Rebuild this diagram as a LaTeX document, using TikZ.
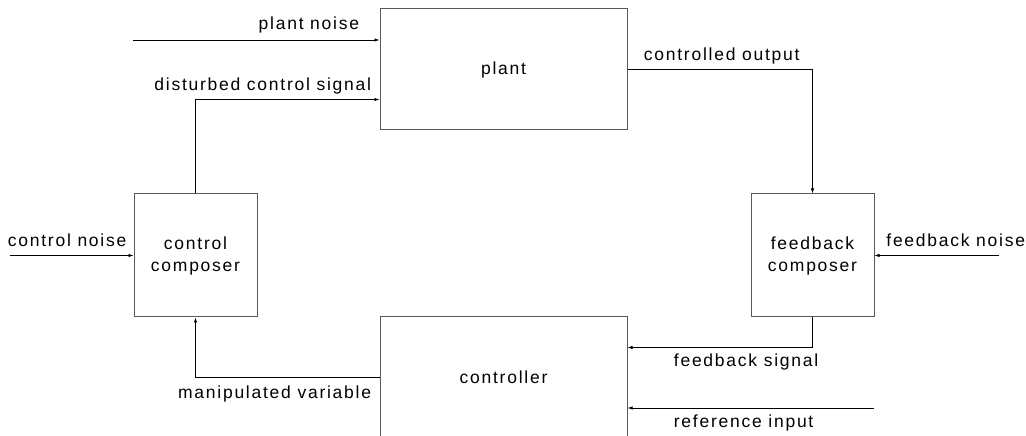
\documentclass[tikz,border=0pt]{standalone}
\usepackage{fontspec}
\setmainfont{Liberation Sans}[LetterSpace=10]
\usetikzlibrary{arrows.meta,positioning}
\tikzset{
    block/.style={draw=black!65,line width=1pt,minimum width=247pt,minimum height=121pt,inner sep=0pt,align=center,font=\fontsize{17.5pt}{22pt}\selectfont},
    composer/.style={block,minimum width=123pt,minimum height=123pt},
    sig/.style={-{Latex[length=5pt,width=3.5pt]},line width=0.8pt},
    txt/.style={inner sep=0pt,font=\fontsize{17.5pt}{22pt}\selectfont}
}

\begin{document}
\begin{tikzpicture}[x=1pt,y=1pt]

    \useasboundingbox (0,0) rectangle (1026,436);

    \node[block] (plant) at (503.5,366.5) {plant};
    \node[block] (controller) [below=186pt of plant] {controller};
    \node[composer] (control composer) [below left=63pt and 122pt of plant] {control\\composer};
    \node[composer] (feedback composer) [below right=63pt and 123pt of plant] {feedback\\composer};

    \coordinate (plant noise) at (133,396);
    \coordinate (control noise) at ([xshift=-124pt]control composer.west);
    \coordinate (feedback noise) at ([xshift=124pt]feedback composer.east);
    \coordinate (reference input) at (874,28);

    % noise and reference inputs
    \draw[sig] (plant noise) -- (plant noise -| plant.west)
        node[txt,anchor=base east,xshift=-20pt,yshift=10pt] {plant noise};
    \draw[sig] (control noise)
        node[txt,anchor=base west,xshift=-2pt,yshift=9pt] {control noise} -- (control composer.west);
    \draw[sig] (feedback noise) -- (feedback composer.east)
        node[txt,anchor=base east,xshift=151pt,yshift=9pt] {feedback noise};
    \draw[sig] (reference input) -- (reference input -| controller.east)
        node[txt,anchor=base west,xshift=46pt,yshift=-20pt] {reference input};

    % loop
    \draw[sig] (control composer.north) |- ([yshift=-91pt]plant.north west)
        node[txt,anchor=base east,xshift=-8pt,yshift=9pt] {disturbed control signal};
    \draw[sig] (plant.east)
        node[txt,anchor=base west,xshift=16pt,yshift=9pt] {controlled output} -| (feedback composer.north);
    \draw[sig] (feedback composer.south) |- ([yshift=-31pt]controller.north east)
        node[txt,anchor=base west,xshift=46pt,yshift=-19pt] {feedback signal};
    \draw[sig] (controller.west)
        node[txt,anchor=base east,xshift=-8pt,yshift=-21pt] {manipulated variable} -| (control composer.south);

\end{tikzpicture}
\end{document}
